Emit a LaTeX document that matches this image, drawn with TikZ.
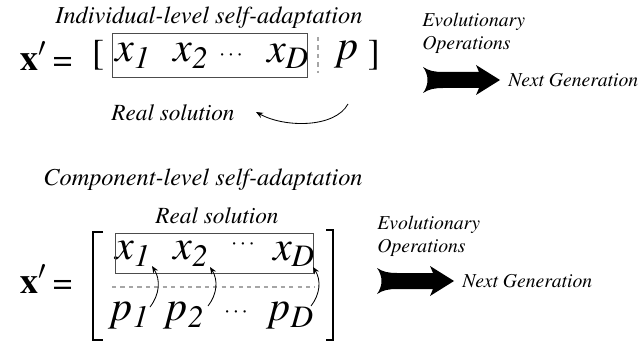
\documentclass[tikz,border=0pt]{standalone}
\usepackage[T1]{fontenc}
\usepackage{mathptmx}
\usetikzlibrary{arrows.meta}

\newcommand{\xs}[2]{$#1_{\mathit{#2}}$}
\newcommand{\xprime}{{\fontsize{26}{28}\selectfont$\mathbf{x}'$}\hspace{5pt}{\fontsize{24}{26}\selectfont=}}

\begin{document}
\begin{tikzpicture}[x=0.025cm,y=-0.025cm,>=Stealth,
 ttl/.style={font=\fontsize{17.3}{19}\selectfont\itshape},
 sol/.style={font=\fontsize{16.5}{18}\selectfont\itshape},
 lbl/.style={font=\fontsize{14}{16.5}\selectfont\itshape,align=left,anchor=west,inner sep=0pt},
 vec/.style={font=\fontsize{30}{32}\selectfont,inner sep=0pt},
 dts/.style={font=\fontsize{16}{18}\selectfont,inner sep=0pt},
 brk/.style={font=\fontsize{26}{28}\selectfont,inner sep=0pt},
 cur/.style={-{Stealth[length=5pt,width=4pt]},line width=0.6pt},
 sep/.style={dashed,gray!70,line width=0.8pt},
 fatarrow/.pic={\fill (0,-13) .. controls (6,-9) and (12,-8) .. (20,-8) -- (56,-8) -- (53,-15) -- (77,0) -- (53,15) -- (56,8) -- (20,8) .. controls (12,8) and (6,9) .. (0,13) .. controls (6,5) and (6,-5) .. cycle;}]
\useasboundingbox (0,0) rectangle (644,341);
% individual level
\node[ttl] (t1) at (209,18) {Individual-level self-adaptation};
\node[inner sep=0pt] (eq1) at (46,56) {\xprime};
\node[brk] (lb1) at (98,56) {[};
\node[vec] (a1) at (133,56) {\xs{x}{1}};
\node[vec] (a2) at (191,56) {\xs{x}{2}};
\node[dts] (a3) at (231,56) {$\cdots$};
\node[vec] (aD) at (288,56) {\xs{x}{D}};
\node[draw,gray!60!black,minimum width=4.875cm,minimum height=1.1cm] (box1) at (209.5,55) {};
\coordinate (s1) at (318,37);
\coordinate (s2) at (318,73);
\draw[sep] (s1) -- (s2);
\node[vec] (p) at (346,55) {$p$};
\node[brk] (rb1) at (374,56) {]};
\node[sol] (r1) at (173,113) {Real solution};
\coordinate (pt) at (348,104);
\coordinate (rt) at (256,112);
\draw[cur] (pt) .. controls (335,128) and (285,128) .. (rt);
\node[lbl] (ev1) at (422,33) {Evolutionary\\Operations};
\pic at (423,80) {fatarrow};
\node[lbl] (ng1) at (508,80) {Next Generation};
% component level
\node[ttl] (t2) at (203,180) {Component-level self-adaptation};
\node[inner sep=0pt] (eq2) at (46,279) {\xprime};
\draw[line width=1pt] (103,232) -- (93,232) -- (93,340) -- (103,340);
\draw[line width=1pt] (326,230) -- (333,230) -- (333,340) -- (326,340);
\node[sol] (r2) at (217,216) {Real solution};
\node[vec] (b1) at (133,254) {\xs{x}{1}};
\node[vec] (b2) at (191,254) {\xs{x}{2}};
\node[dts] (b3) at (243,245) {$\cdots$};
\node[vec] (bD) at (294,254) {\xs{x}{D}};
\node[draw,gray!60!black,minimum width=4.95cm,minimum height=1cm] (box2) at (214,253) {};
\coordinate (d1) at (112,287);
\coordinate (d2) at (315,287);
\draw[sep] (d1) -- (d2);
\node[vec] (q1) at (129,316) {\xs{p}{1}};
\node[vec] (q2) at (184,316) {\xs{p}{2}};
\node[dts] (q3) at (236,313) {$\cdots$};
\node[vec] (qD) at (290,316) {\xs{p}{D}};
\coordinate (c1a) at (150,307); \coordinate (c1b) at (152,266);
\coordinate (c2a) at (208,306); \coordinate (c2b) at (210,267);
\coordinate (c3a) at (311,306); \coordinate (c3b) at (313,267);
\draw[cur] (c1a) to[bend right=35] (c1b);
\draw[cur] (c2a) to[bend right=35] (c2b);
\draw[cur] (c3a) to[bend right=35] (c3b);
\node[lbl] (ev2) at (377,236) {Evolutionary\\Operations};
\pic at (377,281) {fatarrow};
\node[lbl] (ng2) at (462,281) {Next Generation};
\end{tikzpicture}
\end{document}
